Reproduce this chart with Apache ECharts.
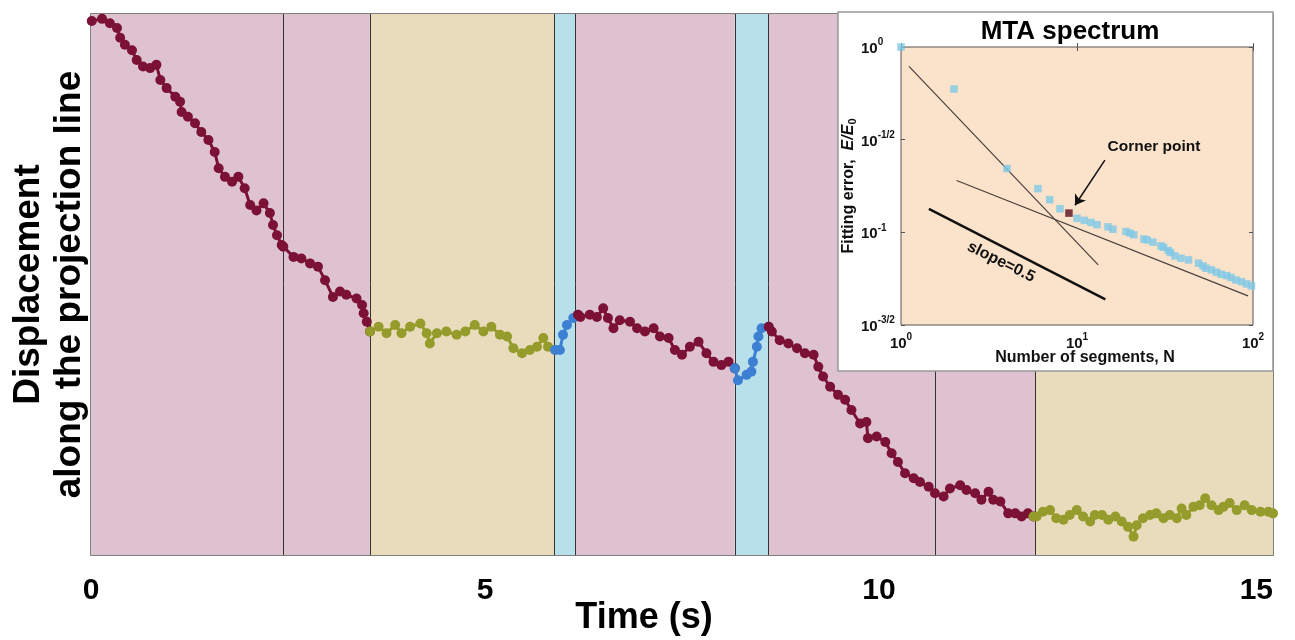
<!DOCTYPE html>
<html><head><meta charset="utf-8">
<script src="https://cdn.jsdelivr.net/npm/echarts@6/dist/echarts.min.js"></script>
<style>html,body{margin:0;padding:0;background:#fff}#c{width:1295px;height:640px}</style>
</head><body><div id="c"></div>
<script>
// ---------- main chart data ----------
const xTicks = [0, 5, 10, 15];
const phaseBounds = [0, 2.44, 3.54, 5.88, 6.15, 8.17, 8.60, 10.72, 11.98, 15];
const phaseKinds = ['run', 'run', 'pause', 'jump', 'run', 'jump', 'run', 'run', 'pause'];

const run1 = [[0.01,98.7],[0.14,99.1],[0.24,98.3],[0.33,97.4],[0.37,95.6],[0.43,94.3],[0.52,93.3],[0.58,91.5],[0.66,90.3],[0.75,90.0],[0.83,90.6],[0.88,87.8],[0.96,86.3],[1.07,84.7],[1.13,83.8],[1.15,81.9],[1.23,81.0],[1.32,79.8],[1.40,78.2],[1.49,76.7],[1.57,74.5],[1.62,71.5],[1.70,69.9],[1.79,69.0],[1.87,69.9],[1.95,67.8],[2.02,64.7],[2.10,63.7],[2.19,65.0],[2.27,63.2],[2.31,61.0],[2.36,59.1],[2.42,57.3],[2.44,57.0],[2.57,55.1],[2.67,54.8],[2.78,53.9],[2.88,53.3],[2.97,50.8],[3.07,47.7],[3.16,48.7],[3.24,48.1],[3.37,47.4],[3.44,46.2],[3.46,44.7],[3.50,43.1],[3.54,41.3]];
const pause1 = [[3.54,41.3],[3.65,42.2],[3.75,41.0],[3.86,42.5],[3.94,41.0],[4.05,42.2],[4.18,42.8],[4.26,41.0],[4.30,39.1],[4.39,41.0],[4.51,41.3],[4.64,40.7],[4.75,41.3],[4.87,42.5],[4.98,41.3],[5.08,42.2],[5.19,40.7],[5.28,40.4],[5.36,38.2],[5.47,37.3],[5.57,37.9],[5.66,38.5],[5.74,40.1],[5.80,38.5],[5.89,37.9]];
const jump1 = [[5.89,37.9],[5.95,37.9],[5.99,40.7],[6.04,42.5],[6.12,43.8],[6.18,44.4]];
const run2 = [[6.18,44.4],[6.21,44.0],[6.33,44.4],[6.42,44.0],[6.50,45.6],[6.56,43.8],[6.63,41.9],[6.71,43.4],[6.84,43.1],[6.93,41.9],[7.03,41.3],[7.14,41.9],[7.22,40.4],[7.33,40.1],[7.41,37.9],[7.50,37.0],[7.60,38.5],[7.71,39.4],[7.81,37.3],[7.90,35.7],[8.00,35.1],[8.09,35.7],[8.17,34.5]];
const jump2 = [[8.17,34.5],[8.21,32.3],[8.32,33.3],[8.38,33.9],[8.40,35.7],[8.45,38.5],[8.47,40.4],[8.51,41.9],[8.60,42.2]];
const run3 = [[8.60,42.2],[8.64,41.3],[8.74,39.7],[8.85,39.1],[8.96,38.2],[9.06,37.3],[9.17,37.0],[9.23,34.8],[9.29,33.0],[9.38,31.1],[9.48,29.6],[9.57,28.7],[9.65,26.8],[9.76,24.3],[9.84,24.6],[9.86,21.6],[9.97,21.9],[10.08,20.9],[10.16,18.8],[10.24,17.2],[10.33,15.1],[10.44,14.2],[10.52,13.5],[10.63,12.6],[10.71,11.4],[10.82,10.8],[10.90,12.3],[11.03,12.9],[11.11,12.0],[11.22,11.4],[11.30,10.2],[11.39,11.7],[11.45,10.2],[11.54,9.9],[11.64,7.7],[11.73,7.7],[11.81,7.1],[11.89,7.7],[11.96,7.1]];
const pause2 = [[11.96,7.1],[12.00,7.1],[12.08,8.0],[12.17,8.3],[12.25,6.8],[12.34,6.5],[12.42,7.4],[12.51,8.3],[12.59,7.1],[12.68,6.2],[12.74,7.4],[12.83,7.4],[12.91,6.5],[13.00,7.1],[13.08,6.2],[13.16,5.2],[13.23,3.4],[13.27,5.5],[13.35,6.8],[13.44,7.4],[13.52,7.7],[13.61,6.8],[13.69,7.4],[13.78,6.8],[13.84,8.6],[13.90,7.4],[13.99,8.9],[14.07,9.2],[14.14,10.5],[14.22,9.2],[14.31,8.3],[14.37,8.9],[14.45,9.6],[14.54,8.3],[14.64,9.2],[14.73,8.3],[14.84,8.0],[14.94,8.0],[15.00,7.7]];

// ---------- inset (MTA spectrum) data ----------
const spectrum = [[1,1.0],[2,0.593],[4,0.221],[6,0.172],[7,0.150],[8,0.134],[10,0.119],[11,0.116],[12,0.113],[13,0.110],[15,0.107],[16,0.104],[19,0.101],[20,0.099],[21,0.097],[24,0.092],[25,0.091],[27,0.0885],[30,0.0845],[31,0.0831],[33,0.0798],[34,0.0778],[36,0.0746],[39,0.0725],[43,0.071],[49,0.0681],[52,0.0659],[54,0.064],[58,0.0627],[62,0.0609],[66,0.0594],[71,0.0584],[75,0.057],[80,0.0553],[86,0.0542],[92,0.0527],[98,0.0514]];
const cornerPoint = [[9, 0.127]];
const steepFit = [[1.11, 0.786], [13.2, 0.0667]];
const shallowFit = [[2.07, 0.1905], [93.7, 0.0454]];
const slopeGuide = [[1.44, 0.134], [14.5, 0.0435]];
const cornerArrow = [[14.4, 0.245], [9.74, 0.140]];
const insetYTicks = [-1.5, -1, -0.5, 0];
const insetYTickLabels = ['-3/2', '-1', '-1/2', '0'];

const colors = { run: '#7b1236', pause: '#959c2c', jump: '#3d7fd2' };
const bgColors = { run: '#dfc2cf', pause: '#e9dcbc', jump: '#b7e0ea' };

const chart = echarts.init(document.getElementById('c'), null, { renderer: 'canvas' });

const areas = [];
for (let i = 0; i < phaseKinds.length; i++) {
  areas.push([{ xAxis: phaseBounds[i], itemStyle: { color: bgColors[phaseKinds[i]] } }, { xAxis: phaseBounds[i + 1] }]);
}
const bLines = phaseBounds.slice(1, -1).map(b => ({ xAxis: b }));

function seg(data, kind, extra) {
  return Object.assign({
    type: 'line', xAxisIndex: 0, yAxisIndex: 0, data: data,
    symbol: 'circle', symbolSize: 10, showSymbol: true,
    itemStyle: { color: colors[kind] },
    lineStyle: { color: colors[kind], width: 3 },
    z: 5, silent: true, animation: false
  }, extra || {});
}

const font = "'Liberation Sans', Arial, sans-serif";
const supRich = {
  b: { fontSize: 15, fontWeight: 'bold', fontFamily: font, color: '#111', verticalAlign: 'bottom' },
  s: { fontSize: 10, fontWeight: 'bold', fontFamily: font, color: '#111', verticalAlign: 'top', padding: [0, 0, 9, 0] }
};
const insetTick = { show: true, inside: true, length: 4, lineStyle: { color: '#555' } };

const option = {
  animation: false,
  backgroundColor: '#ffffff',
  grid: [
    { left: 91, right: 22, top: 14, bottom: 85, show: true, borderColor: '#555', borderWidth: 1.5, backgroundColor: 'transparent',
      containLabel: false, outerBoundsMode: 'none' },
    { left: 901, top: 47, width: 352, height: 278, show: true, borderColor: '#555', borderWidth: 1, backgroundColor: '#fbe3cb', z: 51,
      containLabel: false, outerBoundsMode: 'none' }
  ],
  xAxis: [
    {
      type: 'value', gridIndex: 0, min: 0, max: 15, interval: 5,
      axisLine: { show: false }, axisTick: { show: false }, splitLine: { show: false },
      axisLabel: { margin: 21, fontSize: 30, fontWeight: 'bold', fontFamily: font, color: '#000', alignMaxLabel: 'right',
        formatter: v => xTicks.indexOf(v) >= 0 ? String(v) : '' },
      name: 'Time (s)', nameLocation: 'middle', nameGap: 45, nameMoveOverlap: false,
      nameTextStyle: { fontSize: 36, fontWeight: 'bold', fontFamily: font, color: '#000', padding: [0, 76, 0, 0] }
    },
    {
      type: 'log', gridIndex: 1, min: 1, max: 100, logBase: 10, z: 52,
      axisLine: { show: false }, splitLine: { show: false },
      axisTick: insetTick,
      axisLabel: { margin: 7, rich: supRich,
        formatter: v => '{b|10}{s|' + Math.round(Math.log10(v)) + '}' },
      name: 'Number of segments, N', nameLocation: 'middle', nameGap: 25, nameMoveOverlap: false,
      nameTextStyle: { fontSize: 16, fontWeight: 'bold', fontFamily: font, color: '#111', padding: [0, 0, 0, 16] }
    },
    {
      type: 'log', gridIndex: 1, min: 1, max: 100, logBase: 10, position: 'top', z: 52,
      axisLine: { show: false }, splitLine: { show: false }, axisLabel: { show: false },
      axisTick: insetTick
    }
  ],
  yAxis: [
    {
      type: 'value', gridIndex: 0, min: 0, max: 100,
      axisLine: { show: false }, axisTick: { show: false }, splitLine: { show: false }, axisLabel: { show: false },
      name: 'Displacement\nalong the projection line', nameLocation: 'middle', nameRotate: 90, nameGap: 1, nameMoveOverlap: false,
      nameTextStyle: { fontSize: 37, lineHeight: 41, fontWeight: 'bold', fontFamily: font, color: '#000' }
    },
    {
      type: 'log', gridIndex: 1, min: Math.pow(10, -1.5), max: 1, logBase: 10, position: 'right', z: 52,
      axisLine: { show: false }, splitLine: { show: false }, axisLabel: { show: false },
      axisTick: insetTick
    },
    {
      type: 'value', gridIndex: 1, min: -1.5, max: 0, interval: 0.5, position: 'left', z: 52,
      axisLine: { show: false }, splitLine: { show: false },
      axisTick: insetTick,
      axisLabel: { margin: 40, align: 'left', rich: supRich,
        formatter: v => { const i = insetYTicks.indexOf(v); return i < 0 ? '' : '{b|10}{s|' + insetYTickLabels[i] + '}'; } },
      name: '{t|Fitting error,  }{i|E/E}{sub|0}', nameLocation: 'middle', nameRotate: 90, nameGap: 43, nameMoveOverlap: false,
      nameTextStyle: { rich: {
        t: { fontSize: 16, fontWeight: 'bold', fontFamily: font, color: '#111' },
        i: { fontSize: 16, fontWeight: 'bold', fontStyle: 'italic', fontFamily: font, color: '#111' },
        sub: { fontSize: 11, fontWeight: 'bold', fontFamily: font, color: '#111', verticalAlign: 'bottom', padding: [7, 0, 0, 0] }
      } }
    }
  ],
  graphic: [
    { type: 'rect', z: 50, shape: { x: 838, y: 12, width: 435, height: 359 }, style: { fill: '#ffffff', stroke: '#999', lineWidth: 1.5 } },
    { type: 'text', z: 60, x: 1070, y: 32, style: { text: 'MTA spectrum', fontSize: 26, fontWeight: 'bold', fontFamily: font, fill: '#000', align: 'center', verticalAlign: 'middle' } },
    { type: 'text', z: 60, x: 1154, y: 147, style: { text: 'Corner point', fontSize: 15.5, fontWeight: 'bold', fontFamily: font, fill: '#111', align: 'center', verticalAlign: 'middle' } },
    { type: 'text', z: 60, x: 1001, y: 262, rotation: -0.46, style: { text: 'slope=0.5', fontSize: 16, fontWeight: 'bold', fontFamily: font, fill: '#111', align: 'center', verticalAlign: 'middle' } }
  ],
  series: [
    seg(run1, 'run', {
      markArea: { silent: true, data: areas, z: 1 },
      markLine: { silent: true, symbol: 'none', label: { show: false }, lineStyle: { color: '#333', width: 1, type: 'solid' }, data: bLines, z: 2 }
    }),
    seg(pause1, 'pause'), seg(jump1, 'jump'), seg(run2, 'run'), seg(jump2, 'jump'), seg(run3, 'run'), seg(pause2, 'pause'),
    { type: 'line', xAxisIndex: 1, yAxisIndex: 1, data: steepFit, symbol: 'none', lineStyle: { color: '#4a3f3a', width: 1.2 }, z: 55, silent: true },
    { type: 'line', xAxisIndex: 1, yAxisIndex: 1, data: shallowFit, symbol: 'none', lineStyle: { color: '#4a3f3a', width: 1.2 }, z: 55, silent: true },
    { type: 'line', xAxisIndex: 1, yAxisIndex: 1, data: slopeGuide, symbol: 'none', lineStyle: { color: '#111', width: 2.5 }, z: 55, silent: true },
    { type: 'scatter', xAxisIndex: 1, yAxisIndex: 1, data: spectrum, symbol: 'rect', symbolSize: 7.5, clip: false,
      itemStyle: { color: '#7fc8e6' }, z: 56, silent: true },
    { type: 'scatter', xAxisIndex: 1, yAxisIndex: 1, data: cornerPoint, symbol: 'rect', symbolSize: 7.5, clip: false,
      itemStyle: { color: '#5a0c1c' }, z: 57, silent: true },
    { type: 'lines', coordinateSystem: 'cartesian2d', xAxisIndex: 1, yAxisIndex: 1, z: 58, silent: true,
      symbol: ['none', 'arrow'], symbolSize: 10,
      lineStyle: { color: '#111', width: 1.5, opacity: 1 },
      data: [{ coords: cornerArrow }] }
  ]
};
chart.setOption(option);
</script>
</body></html>
